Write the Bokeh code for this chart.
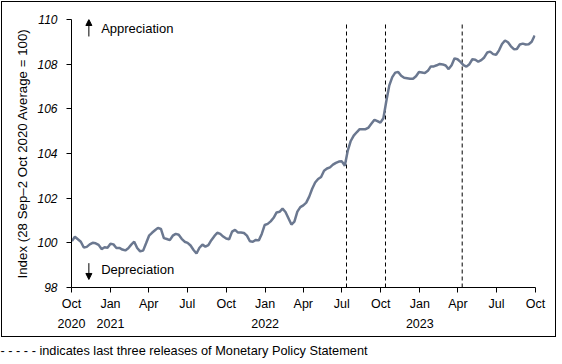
import pandas as pd
from bokeh.plotting import figure
from bokeh.layouts import column
from bokeh.models import (Range1d, FixedTicker, LinearAxis, Label, Arrow, NormalHead,
                          ColumnDataSource, Title)
from bokeh.embed import file_html
from bokeh.resources import INLINE

# ---------------- data ----------------
start_date = "2020-10-02"          # first weekly observation
index_values = [
    100.08, 100.27, 100.16, 100.05, 99.79, 99.82, 99.93, 100.0, 99.98, 99.91,
    99.72, 99.8, 99.78, 99.96, 99.93, 99.77, 99.77, 99.7, 99.66, 99.76,
    99.92, 100.05, 99.77, 99.62, 99.65, 99.98, 100.32, 100.45, 100.56, 100.67,
    100.62, 100.21, 100.17, 100.12, 100.32, 100.4, 100.36, 100.18, 100.05, 100.0,
    99.88, 99.68, 99.52, 99.78, 99.92, 99.83, 99.9, 100.12, 100.3, 100.45,
    100.4, 100.28, 100.19, 100.16, 100.5, 100.58, 100.46, 100.46, 100.44, 100.32,
    100.07, 100.05, 100.13, 100.11, 100.4, 100.8, 100.85, 100.96, 101.12, 101.36,
    101.39, 101.53, 101.38, 101.1, 100.82, 100.95, 101.4, 101.6, 101.68, 101.8,
    102.07, 102.42, 102.7, 102.86, 102.95, 103.23, 103.33, 103.38, 103.5, 103.58,
    103.64, 103.65, 103.45, 104.13, 104.56, 104.8, 104.95, 105.09, 105.09, 105.09,
    105.16, 105.34, 105.51, 105.45, 105.38, 105.58, 106.35, 107.05, 107.42, 107.62,
    107.65, 107.48, 107.39, 107.37, 107.35, 107.35, 107.46, 107.65, 107.63, 107.6,
    107.7, 107.9, 107.9, 107.95, 108.01, 107.99, 107.94, 107.78, 107.95, 108.26,
    108.22, 108.1, 107.96, 107.89, 108.0, 108.22, 108.2, 108.11, 108.18, 108.3,
    108.52, 108.56, 108.45, 108.42, 108.62, 108.9, 109.06, 108.98, 108.8, 108.67,
    108.68, 108.88, 108.92, 108.88, 108.89, 109.0, 109.28,
]
mps_dates = ["2022-07-12", "2022-10-12", "2023-04-11"]
tick_dates = ["2020-10-01", "2021-01-01", "2021-04-01", "2021-07-01", "2021-10-01",
              "2022-01-01", "2022-04-01", "2022-07-01", "2022-10-01",
              "2023-01-01", "2023-04-01", "2023-07-01", "2023-10-01"]
tick_labels = ["Oct", "Jan", "Apr", "Jul", "Oct", "Jan", "Apr", "Jul", "Oct",
               "Jan", "Apr", "Jul", "Oct"]
year_tick_dates = ["2020-10-01", "2021-01-01", "2022-01-01", "2023-01-01"]
year_labels = ["2020", "2021", "2022", "2023"]
y_ticks = [98, 100, 102, 104, 106, 108, 110]
y_label = "Index (28 Sep\u20132 Oct 2020 Average = 100)"
footnote = "- - - - - indicates last three releases of Monetary Policy Statement"


def ms(d):
    return float(pd.Timestamp(d).value // 10**6)


dates = pd.date_range(start_date, periods=len(index_values), freq="7D")
src = ColumnDataSource(dict(x=dates, y=index_values))

FONT = "Liberation Sans"

p = figure(width=555, height=336, output_backend="svg", toolbar_location=None,
           x_axis_type="datetime",
           x_range=Range1d(ms(tick_dates[0]), ms(tick_dates[-1])),
           y_range=Range1d(98, 110),
           min_border_left=69, min_border_right=22, min_border_top=17, min_border_bottom=51)
p.styles = {"border": "1px solid black", "margin-left": "1px", "margin-top": "1px"}
p.xgrid.visible = False
p.ygrid.visible = False
p.outline_line_color = None
p.background_fill_color = "white"
p.border_fill_color = "white"

# y axis
ya = p.yaxis[0]
ya.ticker = FixedTicker(ticks=y_ticks, minor_ticks=[])
ya.axis_label = y_label
ya.axis_label_text_font = FONT
ya.axis_label_text_font_size = "13.3px"
ya.axis_label_text_font_style = "normal"
ya.axis_label_text_color = "black"
ya.axis_label_standoff = 4
ya.major_label_text_font = FONT
ya.major_label_text_font_size = "12px"
ya.major_label_text_font_style = "italic"
ya.major_label_text_color = "black"
ya.major_tick_out = 5
ya.major_tick_in = 0
ya.major_label_standoff = 9
ya.axis_line_color = "black"
ya.major_tick_line_color = "black"

# x axis (months)
xa = p.xaxis[0]
xa.ticker = FixedTicker(ticks=[ms(d) for d in tick_dates], minor_ticks=[])
xa.major_label_overrides = {ms(d): lab for d, lab in zip(tick_dates, tick_labels)}
xa.major_label_text_font = FONT
xa.major_label_text_font_size = "12.5px"
xa.major_label_text_color = "black"
xa.major_tick_out = 5
xa.major_tick_in = 0
xa.major_label_standoff = 4
xa.axis_line_color = "black"
xa.major_tick_line_color = "black"

# x axis (years)
year_axis = LinearAxis(ticker=FixedTicker(ticks=[ms(d) for d in year_tick_dates], minor_ticks=[]),
                       major_label_overrides={ms(d): lab for d, lab in zip(year_tick_dates, year_labels)},
                       axis_line_color=None, major_tick_line_color=None,
                       major_tick_out=0, major_tick_in=0, major_label_standoff=5,
                       major_label_text_font=FONT, major_label_text_font_size="12.5px",
                       major_label_text_color="black")
p.add_layout(year_axis, "below")

# MPS release dashed lines
for d in mps_dates:
    p.segment(x0=[pd.Timestamp(d)], y0=[98], x1=[pd.Timestamp(d)], y1=[109.78],
              line_color="black", line_width=1, line_dash="4 3")

# index line
p.line("x", "y", source=src, line_color="#6b7890", line_width=2.5)

# appreciation / depreciation markers
p.add_layout(Arrow(end=NormalHead(size=6, fill_color="black", line_color="black"),
                   x_start=ms("2020-11-11"), y_start=109.24, x_end=ms("2020-11-11"), y_end=110.0,
                   line_color="black", line_width=1))
p.add_layout(Arrow(end=NormalHead(size=6, fill_color="black", line_color="black"),
                   x_start=ms("2020-11-11"), y_start=99.09, x_end=ms("2020-11-11"), y_end=98.36,
                   line_color="black", line_width=1))
p.add_layout(Label(x=ms("2020-12-10"), y=109.58, text="Appreciation", text_font=FONT,
                   text_font_size="13px", text_baseline="middle", text_color="black"))
p.add_layout(Label(x=ms("2020-12-10"), y=98.8, text="Depreciation", text_font=FONT,
                   text_font_size="13px", text_baseline="middle", text_color="black"))

# footnote figure (title used as the footnote text)
note = figure(width=557, height=24, output_backend="svg", toolbar_location=None,
              x_range=Range1d(0, 1), y_range=Range1d(0, 1),
              x_axis_location=None, y_axis_location=None,
              min_border=0)
note.styles = {"margin-top": "4px"}
note.xgrid.visible = False
note.ygrid.visible = False
note.outline_line_color = None
note.title = Title(text=footnote, align="left", offset=-69, standoff=0,
                   text_font=FONT, text_font_size="12.75px", text_font_style="normal",
                   text_color="black", vertical_align="middle")

layout = column(p, note, spacing=0)
open("out.html", "w").write(file_html(layout, INLINE))
